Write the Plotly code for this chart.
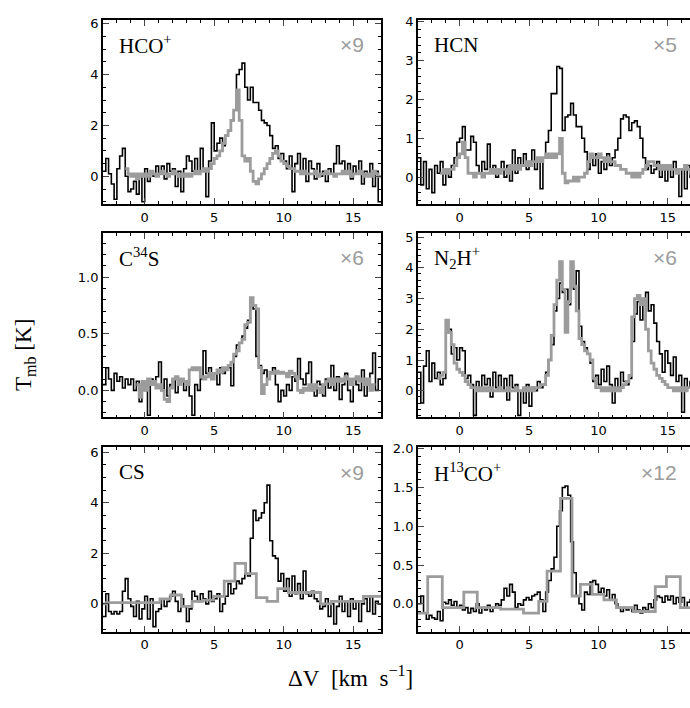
import numpy as np
import plotly.graph_objects as go

# ---------------- DATA ----------------
# black spectra: channels of 0.2 km/s starting at -3.0 km/s (left edges)
BLACK_V0 = -3.0
BLACK_DV = 0.2

hcop_black = [
    0.2, 0.7, 0.1, -0.3, -0.9,
    0.3, 0.8, 1.1, 0.0, -0.6,
    -0.5, -0.2, -0.7, 0.1, -1.0,
    0.3, -0.2, 0.2, 0.0, 0.4,
    0.1, 0.4, -0.1, 0.5, 0.2,
    0.3, -0.4, 0.2, -0.6, 0.3,
    0.8, 0.6, 0.2, 0.7, 0.1,
    1.1, 0.3, -0.8, 0.6, 2.1,
    1.0, 1.3, 1.5, 1.2, 1.6,
    1.8, 2.2, 2.6, 4.0, 4.2,
    4.45, 3.5, 3.0, 3.5, 2.9,
    2.9, 2.6, 2.2, 2.1, 2.0,
    1.6, 1.1, 1.2, 0.7, 0.9,
    0.6, 0.3, 0.8, -0.6, 0.5,
    0.9, 0.2, 0.7, -0.2, 0.6,
    0.3, -0.1, 0.5, 0.0, 0.2,
    -0.2, 0.3, 0.1, 0.5, 1.2,
    0.5, 0.6, 0.2, 0.5, -0.1,
    0.4, 0.1, 0.6, -0.3, 0.2,
    0.0, 0.5, -0.4, 0.2, -1.0]

hcn_black = [
    0.5, -0.2, 0.4, -0.3, 0.2,
    -0.4, 0.3, 0.1, 0.4, -0.2,
    0.2, 0.0, 0.3, 0.5, 0.9,
    1.0, 1.3, 0.7, 0.7, 1.05,
    0.9, 0.3, 0.1, 0.4, 0.2,
    0.85, 0.1, 0.3, 0.0, 0.2,
    0.4, 0.0, 0.3, -0.1, 0.7,
    0.1, 0.5, 0.3, 0.6, 0.2,
    0.4, 0.7, 0.2, 0.5, -0.3,
    0.5, 0.9, 1.2, 2.15, 2.15,
    2.85, 2.8, 1.2, 1.55, 1.6,
    1.9, 1.6, 1.3, 1.3, 1.0,
    0.65, 0.2, 0.5, 0.3, 0.6,
    0.1, 0.4, 0.2, 0.6, 0.3,
    0.5, 0.7, 1.0, 1.5, 1.6,
    1.55, 1.2, 1.4, 1.45, 1.3,
    1.0, 0.5, 0.2, 0.3, 0.1,
    0.2, 0.4, 0.0, 0.3, -0.1,
    0.3, 0.0, 0.4, 0.1, -0.5,
    0.2, -0.3, 0.3, 0.0, 0.2]

c34s_black = [
    0.05, 0.2, 0.1, 0.0, 0.15,
    0.08, 0.12, 0.02, 0.1, 0.05,
    0.1, 0.0, 0.08, -0.1, 0.05,
    0.0, -0.22, 0.1, 0.05, 0.12,
    0.25, 0.0, 0.1, -0.05, 0.05,
    0.1, -0.02, 0.05, 0.08, 0.0,
    0.05, -0.05, -0.22, 0.05, 0.0,
    0.1, 0.35, 0.15, 0.2, 0.1,
    0.15, 0.05, 0.2, 0.15, 0.18,
    0.2, 0.04, 0.3, 0.4, 0.42,
    0.48, 0.55, 0.62, 0.78, 0.72,
    0.3, 0.22, 0.15, 0.18, 0.1,
    0.15, 0.2, 0.05, -0.1, 0.0,
    -0.05, 0.05, 0.0, 0.12, 0.08,
    0.28, 0.1, 0.05, 0.15, 0.25,
    0.0, -0.05, 0.08, 0.05, -0.05,
    0.1, 0.02, 0.22, 0.0, 0.12,
    -0.08, 0.05, 0.15, 0.0, -0.1,
    0.1, 0.05, 0.0, 0.18, -0.05,
    0.08, 0.15, 0.33, 0.0, 0.1]

n2hp_black = [
    0.6, -0.4, 0.8, 1.3, 0.3,
    0.9, 0.4, 0.6, 0.2, 0.4,
    1.9, 2.0, 1.2, 1.4, 1.0,
    1.4, 1.3, 0.4, 0.5, 0.2,
    -0.8, 0.3, 0.0, 0.5, 0.2,
    0.4, -0.2, 0.6, 0.1, 0.5,
    0.0, 0.4, -0.3, 0.5, 0.1,
    0.2, -0.8, 0.0, -0.4, 0.2,
    -0.5, 0.1, 0.0, 0.3, 0.1,
    0.2, 0.6, 1.0, 1.5, 2.6,
    3.0, 3.5, 3.2, 3.3, 2.8,
    3.6, 3.3, 3.9, 2.1, 1.6,
    1.4, 1.2, 0.9, 0.3, 0.5,
    0.2, 0.7, 0.3, 0.8, 0.2,
    -0.4, 0.4, 0.1, 0.6, 0.3,
    0.2, 0.4, 1.6, 2.5, 2.9,
    2.3, 3.0, 3.2, 2.6, 2.8,
    2.2, 1.6, 1.2, 0.6, 1.3,
    0.9, 0.5, 1.1, 0.3, 0.5,
    -0.7, 0.4, 0.1, 0.3, 0.0]

cs_black = [
    -0.5, 0.4, -0.3, -0.4, -0.3,
    -0.4, -0.3, 0.5, 1.0, 0.2,
    -0.1, -0.5, 0.1, -0.6, -0.2,
    0.3, -0.6, 0.2, -0.9, -0.3,
    -0.2, 0.2, -0.1, 0.1, 0.3,
    0.5, 0.1, -0.3, 0.2, -0.1,
    -0.7, -0.2, 0.5, 0.3, 0.1,
    0.4, 0.2, 0.0, 0.5, 0.1,
    0.2, 0.4, -0.3, 0.0, 0.3,
    0.8, 0.4, 0.6, 0.9, 0.8,
    1.0, 1.2, 1.1, 2.6, 3.7,
    3.3, 3.4, 3.6, 4.0, 4.7,
    2.5, 1.9, 1.8, 0.9, 1.2,
    0.5, 1.0, 0.3, 1.1, 0.4,
    0.8, 0.2, 1.3, 0.4, 0.3,
    0.5, 0.2, 0.1, -0.2, -0.1,
    0.2, -0.5, 0.0, -0.8, -0.1,
    0.3, -0.3, 0.1, -0.5, 0.2,
    -0.2, 0.1, -0.7, 0.0, 0.2,
    -0.3, 0.3, -0.4, 0.1, 0.0]

h13cop_black = [
    0.0, 0.1, -0.12, -0.2, -0.15,
    -0.18, -0.2, -0.1, -0.22, 0.02,
    0.0, 0.05, -0.02, 0.03, -0.05,
    -0.02, -0.08, -0.05, -0.12, -0.06,
    -0.1, 0.0, -0.12, -0.05, -0.08,
    -0.02, -0.1, -0.05, 0.0, -0.02,
    0.05, 0.2, 0.1, 0.25, 0.15,
    -0.05, 0.0, -0.02, 0.05, 0.08,
    0.05, 0.1, 0.12, 0.15, 0.05,
    -0.1, 0.15, 0.3, 0.45, 0.6,
    1.0, 1.2, 1.5, 1.52, 1.4,
    0.8, 0.4, 0.1, 0.0, -0.08,
    0.15, 0.12, 0.28, 0.3, 0.25,
    0.15, 0.2, 0.1, 0.18, 0.05,
    0.12, 0.0, -0.05, -0.1, -0.05,
    -0.08, -0.05, -0.1, -0.02, -0.08,
    -0.12, -0.05, -0.08, 0.0, -0.05,
    0.05, 0.1, 0.08, 0.02, 0.1,
    0.05, 0.1, 0.0, 0.08, 0.02,
    0.08, -0.05, 0.02, 0.05, 0.0]

# grey (scaled) spectra, fine channels of 0.2 km/s
GREY_DV = 0.2
hcop_grey_v0 = -1.4
hcop_grey = [
    0.3, 0.1,
    0.0, 0.1, -0.1, 0.1, 0.0,
    0.1, 0.0, 0.2, 0.1, 0.0,
    0.1, 0.2, 0.1, 0.0, 0.1,
    0.2, 0.1, 0.0, 0.1, 0.0,
    0.1, 0.0, 0.1, 0.2, 0.1,
    0.2, 0.3, 0.2, 0.3, 0.5,
    0.7, 0.8, 1.0, 1.3, 1.6,
    1.8, 2.2, 2.6, 3.4, 2.2,
    0.8, 0.6, 0.7, 0.2, -0.2,
    -0.3, -0.1, 0.1, 0.3, 0.5,
    0.7, 0.9, 1.0, 0.8, 0.6,
    0.5, 0.4, 0.3, 0.3, 0.2,
    0.2, 0.1, 0.2, 0.1, 0.1,
    0.1, 0.2, 0.0, 0.1, 0.1,
    0.2, 0.1, 0.1, 0.0, 0.1,
    0.1, 0.2, 0.1, 0.2, 0.0,
    0.1, 0.1, 0.2, 0.1, 0.0,
    0.1, 0.0, 0.2, 0.1, 0.0]

hcn_grey_v0 = -1.4
hcn_grey = [
    0.1, 0.2,
    0.1, 0.2, 0.2, 0.3, 0.5,
    0.6, 0.9, 0.5, 0.1, 0.1,
    0.0, 0.1, 0.1, 0.0, 0.1,
    0.1, 0.2, 0.1, 0.2, 0.1,
    0.2, 0.2, 0.1, 0.3, 0.2,
    0.3, 0.2, 0.3, 0.3, 0.4,
    0.3, 0.4, 0.4, 0.5, 0.4,
    0.5, 0.6, 0.5, 0.6, 0.5,
    0.6, 1.0, 0.1, -0.15, -0.1,
    -0.1, 0.0, -0.1, 0.0, 0.0,
    0.1, 0.4, 0.6, 0.5, 0.5,
    0.6, 0.5, 0.4, 0.5, 0.4,
    0.4, 0.3, 0.3, 0.2, 0.2,
    0.1, 0.1, 0.0, 0.1, 0.0,
    0.1, 0.2, 0.3, 0.4, 0.4,
    0.3, 0.3, 0.2, 0.3, 0.2,
    0.3, 0.2, 0.2, 0.1, 0.2,
    0.2, 0.3, 0.2, 0.1, 0.2]

c34s_grey_v0 = -0.6
c34s_grey = [
    0.05, -0.06, 0.08,
    0.0, 0.1, 0.05, 0.08, 0.02,
    0.05, 0.0, -0.08, -0.1, 0.02,
    0.1, 0.12, 0.05, 0.1, 0.08,
    0.05, 0.18, 0.2, 0.18, 0.2,
    0.12, 0.1, 0.12, 0.15, 0.1,
    0.15, 0.18, 0.16, 0.2, 0.18,
    0.22, 0.25, 0.32, 0.35, 0.42,
    0.45, 0.58, 0.6, 0.82, 0.75,
    0.72, 0.2, -0.03, 0.05, 0.1,
    0.16, 0.15, 0.17, 0.15, 0.16,
    0.15, 0.12, 0.17, 0.15, 0.12,
    0.0, -0.02, 0.02, 0.0, 0.05,
    0.0, 0.05, 0.02, -0.02, 0.05,
    0.08, 0.1, 0.05, 0.1, 0.08,
    0.1, 0.08, 0.12, 0.1, 0.05,
    0.1, 0.12, 0.08, 0.1, 0.05,
    0.1, 0.0, 0.05]

n2hp_grey_v0 = -1.6
n2hp_grey = [
    0.4, 0.5, 0.6,
    2.3, 1.9, 1.5, 0.9, 0.7,
    0.6, 0.5, 0.3, 0.2, 0.1,
    0.1, 0.0, 0.1, 0.0, 0.1,
    0.0, 0.1, 0.0, 0.0, 0.1,
    0.0, 0.0, 0.1, 0.0, 0.0,
    0.1, 0.0, 0.0, 0.1, 0.0,
    0.1, 0.0, 0.1, 0.1, 0.2,
    0.2, 0.5, 1.0, 1.8, 2.8,
    3.6, 4.2, 3.3, 1.9, 2.9,
    4.2, 3.4, 2.6, 1.7, 1.5,
    1.3, 1.2, 1.0, 0.4, 0.1,
    0.1, 0.0, 0.1, 0.0, 0.1,
    0.0, 0.1, 0.0, 0.1, 0.2,
    0.3, 0.5, 2.4, 3.0, 3.1,
    2.8, 3.0, 2.0, 1.3, 0.9,
    0.7, 0.5, 0.4, 0.3, 0.2,
    0.1, 0.1, 0.0, 0.1, 0.0,
    0.1, 0.0, 0.1]

# grey (scaled) spectra with coarse channels: explicit channel edges
cs_grey_edges = [-3.52, -2.75, -1.98, -1.21, -0.44, 0.33, 1.10, 1.87, 2.64,
                 3.41, 4.18, 4.95, 5.72, 6.49, 7.26, 8.03, 8.80, 9.57, 10.34,
                 11.11, 11.88, 12.65, 13.42, 14.19, 14.96, 15.73, 16.50, 17.27]
cs_grey = [0.0, 0.05, 0.05, 0.05, 0.05, 0.05, 0.2, 0.35, -0.1, 0.1, 0.15,
           0.3, 0.9, 1.6, 1.2, 0.25, 0.1, 0.6, 0.45, 0.45, 0.45, 0.0, 0.1,
           0.1, 0.1, 0.3, 0.3]

h13cop_grey_edges = [-3.0, -2.3, -1.25, 0.3, 1.27, 2.95, 4.6, 5.7, 6.3, 7.27,
                     8.1, 8.7, 9.55, 10.4, 11.3, 12.5, 14.1, 14.9, 15.9, 17.0]
h13cop_grey = [-0.12, 0.35, -0.05, 0.15, -0.05, -0.07, -0.12, 0.03, 0.42,
               1.36, 0.1, 0.25, 0.12, 0.05, -0.05, -0.1, 0.22, 0.35, -0.05]

species = ["HCO<sup>+</sup>", "HCN", "C<sup>34</sup>S",
           "N<sub>2</sub>H<sup>+</sup>", "CS", "H<sup>13</sup>CO<sup>+</sup>"]
factors = ["×9", "×5", "×6", "×6", "×9", "×12"]
xticks = [0, 5, 10, 15]

# ---------------- LAYOUT (pixels) ----------------
W, H = 690, 708
COL_X = [(103, 381), (418, 690)]
ROW_Y = [(14, 200), (229, 415), (445, 631)]
XRANGE = [[-3.0, 17.0], [-3.0, 16.6]]
YRANGES = [[-1.1, 6.15], [-0.7, 4.05], [-0.24, 1.39], [-0.87, 5.13],
           [-1.1, 6.2], [-0.36, 2.02]]
YDTICK = [2, 1, 0.5, 1, 2, 0.5]
YMINOR = [0.5, 0.2, 0.1, 0.2, 0.5, 0.1]
YFMT = ["d", "d", ".1f", "d", "d", ".1f"]

GREY = "#9c9c9c"
NB = "\u00a0"


def fine_step(v0, dv, vals):
    edges = v0 + dv * np.arange(len(vals) + 1)
    return edges, list(vals) + [vals[-1]]


def edge_step(edges, vals):
    return np.asarray(edges), list(vals) + [vals[-1]]


black_sets = [hcop_black, hcn_black, c34s_black, n2hp_black, cs_black, h13cop_black]
grey_sets = [
    fine_step(hcop_grey_v0, GREY_DV, hcop_grey),
    fine_step(hcn_grey_v0, GREY_DV, hcn_grey),
    fine_step(c34s_grey_v0, GREY_DV, c34s_grey),
    fine_step(n2hp_grey_v0, GREY_DV, n2hp_grey),
    edge_step(cs_grey_edges, cs_grey),
    edge_step(h13cop_grey_edges, h13cop_grey),
]

fig = go.Figure()
layout = dict(width=W, height=H, margin=dict(l=0, r=0, t=0, b=0),
              paper_bgcolor="white", plot_bgcolor="white", showlegend=False)
annotations = []

tickfont = dict(family="DejaVu Sans", size=13, color="black")

for i in range(6):
    row, col = divmod(i, 2)
    n = i + 1
    xa = "x" if n == 1 else f"x{n}"
    ya = "y" if n == 1 else f"y{n}"
    x0, x1 = COL_X[col]
    yt, yb = ROW_Y[row]

    bx, by = fine_step(BLACK_V0, BLACK_DV, black_sets[i])
    fig.add_trace(go.Scatter(x=bx, y=by, mode="lines", line_shape="hv",
                             line=dict(color="black", width=1.6),
                             xaxis=xa, yaxis=ya, hoverinfo="skip"))
    gx, gy = grey_sets[i]
    fig.add_trace(go.Scatter(x=gx, y=gy, mode="lines", line_shape="hv",
                             line=dict(color=GREY, width=2.8),
                             xaxis=xa, yaxis=ya, hoverinfo="skip"))

    xkey = "xaxis" if n == 1 else f"xaxis{n}"
    ykey = "yaxis" if n == 1 else f"yaxis{n}"
    layout[xkey] = dict(
        domain=[x0 / W, x1 / W], anchor=ya, range=XRANGE[col],
        tickmode="array", tickvals=xticks, ticks="inside", ticklen=6,
        tickwidth=1.3, showline=True, linewidth=1.8, linecolor="black",
        mirror="ticks", showgrid=False, zeroline=False, tickfont=tickfont,
        minor=dict(dtick=1, ticks="inside", ticklen=3, tickwidth=1,
                   tickcolor="black", showgrid=False),
    )
    layout[ykey] = dict(
        domain=[1 - yb / H, 1 - yt / H], anchor=xa, range=YRANGES[i],
        dtick=YDTICK[i], tick0=0, tickformat=YFMT[i], ticks="inside",
        ticklen=6, tickwidth=1.3, showline=True, linewidth=1.8,
        linecolor="black", mirror=("ticks" if col == 0 else False),
        showgrid=False, zeroline=False, tickfont=tickfont,
        minor=dict(dtick=YMINOR[i], ticks="inside", ticklen=3, tickwidth=1,
                   tickcolor="black", showgrid=False),
    )

    annotations.append(dict(
        text=species[i], xref="paper", yref="paper",
        x=(x0 + 14) / W, y=1 - (yt + 25) / H, xanchor="left", yanchor="middle",
        showarrow=False, font=dict(family="Liberation Serif", size=21, color="black")))
    fx = 366 if col == 0 else 679
    annotations.append(dict(
        text=factors[i], xref="paper", yref="paper",
        x=fx / W, y=1 - (yt + 25) / H, xanchor="right", yanchor="middle",
        showarrow=False, font=dict(family="Liberation Sans", size=21, color=GREY)))

annotations.append(dict(
    text="T<sub>mb</sub>" + NB + "[K]", xref="paper", yref="paper",
    x=25 / W, y=1 - 352 / H, xanchor="center", yanchor="middle", textangle=-90,
    showarrow=False, font=dict(family="Liberation Serif", size=23, color="black")))
annotations.append(dict(
    text="ΔV" + NB + NB + "[km" + NB + NB + "s<sup>−1</sup>]", xref="paper", yref="paper",
    x=351 / W, y=1 - 676 / H, xanchor="center", yanchor="middle",
    showarrow=False, font=dict(family="Liberation Serif", size=23, color="black")))

layout["annotations"] = annotations
fig.update_layout(**layout)
fig.write_html("out.html", config={"displayModeBar": False},
               post_script="document.body.style.margin='0';document.body.style.padding='0';")
